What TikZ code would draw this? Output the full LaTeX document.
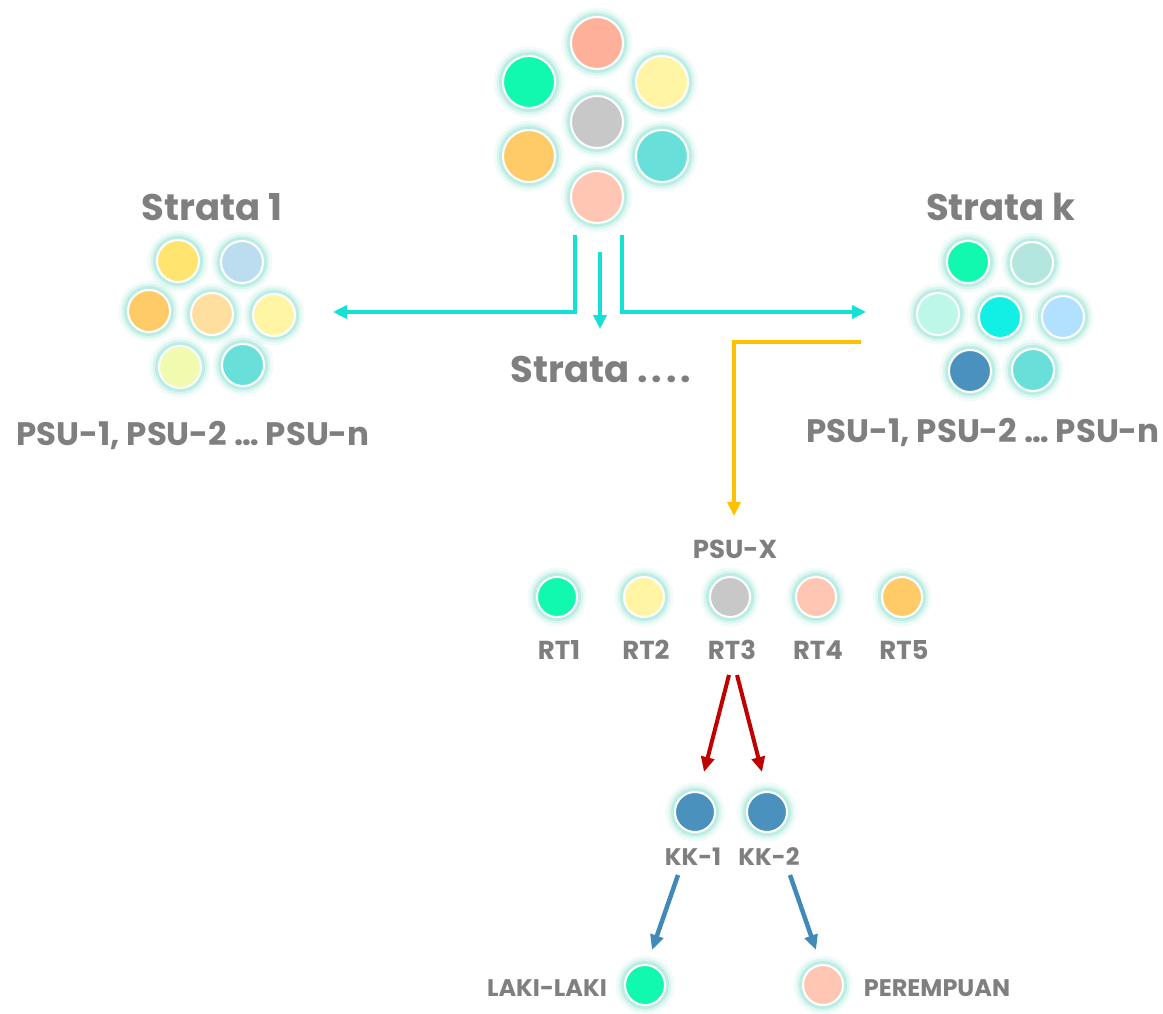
\documentclass[tikz,border=0pt]{standalone}
\usepackage{fontspec}
\setmainfont{Poppins}
\usetikzlibrary{arrows.meta}

\definecolor{txtgray}{HTML}{7F7F7F}
\definecolor{glowc}{HTML}{8FE3D2}
\definecolor{cyanline}{HTML}{14E0D6}
\definecolor{goldline}{HTML}{FFC000}
\definecolor{redline}{HTML}{C00000}
\definecolor{blueline}{HTML}{4189B8}
% dot colours
\definecolor{salmon}{HTML}{FFB09A}
\definecolor{peach}{HTML}{FFC6B4}
\definecolor{mint}{HTML}{10F9AE}
\definecolor{lemon}{HTML}{FFF5A5}
\definecolor{silver}{HTML}{C8C8C8}
\definecolor{apricot}{HTML}{FFCB69}
\definecolor{teal}{HTML}{69DFDA}
\definecolor{sun}{HTML}{FFE46F}
\definecolor{sky}{HTML}{BCDDF0}
\definecolor{cream}{HTML}{FFDF9F}
\definecolor{lime}{HTML}{F0FBB0}
\definecolor{sage}{HTML}{B3E6DC}
\definecolor{foam}{HTML}{BDF7EA}
\definecolor{aqua}{HTML}{12EFE4}
\definecolor{ice}{HTML}{B1E1FF}
\definecolor{steel}{HTML}{4A91BD}

\tikzset{
  dot/.style={circle, draw=white, line width=2pt, inner sep=0pt, minimum size=#1,
    preaction={draw=glowc, line width=19pt, draw opacity=.12},
    preaction={draw=glowc, line width=13pt, draw opacity=.22},
    preaction={draw=glowc, line width=8pt, draw opacity=.4}},
  dot/.default=42pt,
  head/.style={text=txtgray, font=\bfseries\fontsize{37}{39}\selectfont},
  psu/.style={text=txtgray, font=\bfseries\fontsize{32.5}{34}\selectfont},
  lbl/.style={text=txtgray, font=\bfseries\fontsize{26}{28}\selectfont},
  small/.style={text=txtgray, font=\bfseries\fontsize{24}{26}\selectfont},
  cyanarrow/.style={draw=cyanline, line width=4pt, -{Triangle[length=14pt, width=13pt]}},
  goldarrow/.style={draw=goldline, line width=4pt, -{Triangle[length=14pt, width=13pt]}},
  redarrow/.style={draw=redline, line width=4pt, -{Triangle[length=15pt, width=13pt]}},
  bluearrow/.style={draw=blueline, line width=4.5pt, -{Triangle[length=15pt, width=13pt]}}
}

\begin{document}
\begin{tikzpicture}[x=1pt, y=-1pt]
    \useasboundingbox[fill=white] (0,0) rectangle (1163,1014);

    % population
    \node (p1) [dot=52pt, fill=salmon] at (597,43) {};
    \node (p2) [dot=52pt, fill=mint] at (529,82) {};
    \node (p3) [dot=52pt, fill=lemon] at (662,82) {};
    \node (p4) [dot=52pt, fill=silver] at (597,122) {};
    \node (p5) [dot=52pt, fill=apricot] at (529,156) {};
    \node (p6) [dot=52pt, fill=teal] at (662,156) {};
    \node (p7) [dot=52pt, fill=peach] at (597,197) {};

    % strata 1
    \node (s1) [head] at (212,207) {Strata 1};
    \node (a1) [dot, fill=sun] at (178,261) {};
    \node (a2) [dot, fill=sky] at (242,262) {};
    \node (a3) [dot, fill=apricot] at (149,311) {};
    \node (a4) [dot, fill=cream] at (212,314) {};
    \node (a5) [dot, fill=lemon] at (274,315) {};
    \node (a6) [dot, fill=lime] at (180,367) {};
    \node (a7) [dot, fill=teal] at (243,365) {};
    \node (s1psu) [psu] at (193,435) {PSU-1, PSU-2 … PSU-n};

    % strata k
    \node (sk) [head] at (1001,207) {Strata k};
    \node (b1) [dot, fill=mint] at (968,262) {};
    \node (b2) [dot, fill=sage] at (1032,263) {};
    \node (b3) [dot, fill=foam] at (938,314) {};
    \node (b4) [dot, fill=aqua] at (1000,317) {};
    \node (b5) [dot, fill=ice] at (1063,317) {};
    \node (b6) [dot, fill=steel] at (970,371) {};
    \node (b7) [dot, fill=teal] at (1033,370) {};
    \node (skpsu) [psu] at (983,432) {PSU-1, PSU-2 … PSU-n};

    \node (sd) [head] at (601,369) {Strata .\kern4pt.\kern4pt.\kern4pt.};

    % split into strata
    \coordinate (cl) at (575,235);
    \coordinate (cm) at (600,252);
    \coordinate (cr) at (622,235);
    \coordinate (s1in) at (333,312);
    \coordinate (sdin) at (600,329);
    \coordinate (skin) at (866,312);
    \draw [cyanarrow] (cl) |- (s1in);
    \draw [cyanarrow] (cm) -- (sdin);
    \draw [cyanarrow] (cr) |- (skin);

    % one psu
    \node (psux) [lbl] at (735,549) {PSU-X};
    \coordinate (kout) at (861,342);
    \coordinate (xin) at (734,516);
    \draw [goldarrow] (kout) -| (xin);

    \node (rt1) [dot=40pt, fill=mint] at (557,597) {};
    \node (rt2) [dot=40pt, fill=lemon] at (644,597) {};
    \node (rt3) [dot=40pt, fill=silver] at (730,597) {};
    \node (rt4) [dot=40pt, fill=peach] at (816,597) {};
    \node (rt5) [dot=40pt, fill=apricot] at (902,597) {};
    \node (l1) [lbl] at (559,650) {RT1};
    \node (l2) [lbl] at (646,650) {RT2};
    \node (l3) [lbl] at (732,650) {RT3};
    \node (l4) [lbl] at (818,650) {RT4};
    \node (l5) [lbl] at (904,650) {RT5};

    % households
    \node (kk1) [dot=40pt, fill=steel] at (695,812) {};
    \node (kk2) [dot=40pt, fill=steel] at (767,812) {};
    \node (k1) [small] at (693,857) {KK-1};
    \node (k2) [small] at (769,857) {KK-2};
    \coordinate (r1) at (729,675);
    \coordinate (r2) at (737,675);
    \coordinate (kk1in) at (704,772);
    \coordinate (kk2in) at (762,772);
    \draw [redarrow] (r1) -- (kk1in);
    \draw [redarrow] (r2) -- (kk2in);

    % members
    \node (m) [dot=40pt, fill=mint] at (645,985) {};
    \node (f) [dot=40pt, fill=peach] at (823,985) {};
    \node (ml) [small] at (547,988) {LAKI-LAKI};
    \node (fl) [small] at (937,988) {PEREMPUAN};
    \coordinate (b1out) at (678,875);
    \coordinate (b2out) at (790,875);
    \coordinate (min) at (652,950);
    \coordinate (fin) at (816,950);
    \draw [bluearrow] (b1out) -- (min);
    \draw [bluearrow] (b2out) -- (fin);
\end{tikzpicture}
\end{document}
